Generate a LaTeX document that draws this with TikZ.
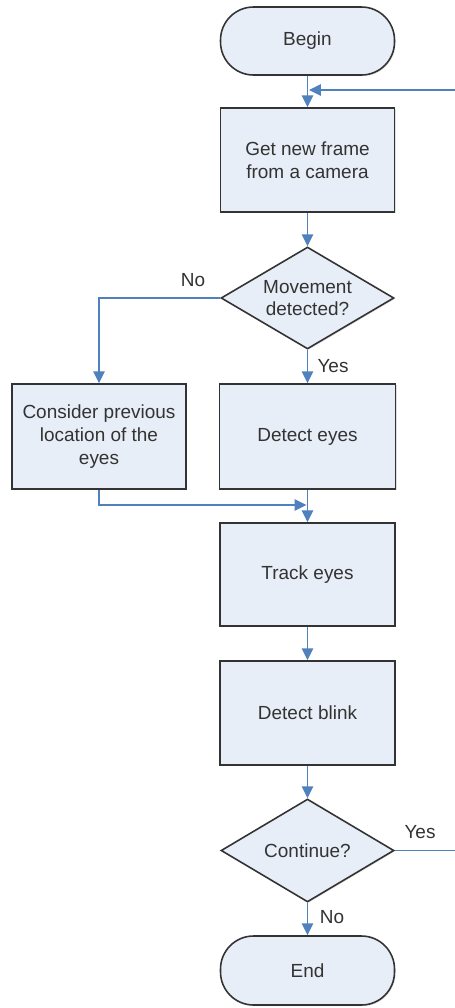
\documentclass[tikz,border=0pt]{standalone}
\usepackage{fontspec}
\setmainfont{Liberation Sans}
\usetikzlibrary{shapes.geometric,arrows.meta,shadows}
\definecolor{boxfill}{HTML}{E8EEF7}
\definecolor{boxline}{HTML}{333333}
\definecolor{connblue}{HTML}{4F81BD}
\definecolor{txtgray}{HTML}{333333}
\tikzset{
  basefont/.style={font=\fontsize{10.8pt}{13pt}\selectfont, text=txtgray},
  stepbox/.style={basefont, draw=boxline, line width=0.9pt, fill=boxfill, rectangle,
    minimum width=3.48cm, minimum height=2.08cm, align=center, inner sep=0pt,
    drop shadow={shadow xshift=0.6pt, shadow yshift=-0.6pt, opacity=0.25}},
  termbox/.style={stepbox, rounded corners=0.66cm, minimum height=1.36cm},
  decbox/.style={basefont, draw=boxline, line width=0.9pt, fill=boxfill, diamond, aspect=1.7,
    minimum width=3.46cm, minimum height=2.04cm, align=center, inner sep=0pt,
    drop shadow={shadow xshift=0.6pt, shadow yshift=-0.6pt, opacity=0.25}},
  conn/.style={draw=connblue, line width=0.85pt, -{Triangle[length=6.8pt, width=6.5pt]}},
  lbl/.style={basefont, inner sep=0pt}
}
\begin{document}
\begin{tikzpicture}[x=0.02cm,y=-0.02cm]
\useasboundingbox[fill=white] (0,0) rectangle (454,1008);
\node[termbox] (begin) at (307.5,41) {Begin};
\node[stepbox] (frame) at (307.5,160) {Get new frame\\from a camera};
\node[decbox] (move) at (307.5,298) {Movement\\detected?};
\node[stepbox, minimum width=3.48cm, minimum height=2.1cm] (cons) at (99,436.5) {Consider previous\\location of the\\eyes};
\node[stepbox, minimum width=3.52cm, minimum height=2.1cm] (deye) at (307.5,436.5) {Detect eyes};
\node[stepbox, minimum width=3.5cm, minimum height=2.06cm] (track) at (307.5,574.5) {Track eyes};
\node[stepbox, minimum width=3.5cm] (blink) at (307.5,713) {Detect blink};
\node[decbox, minimum height=2.06cm] (cont) at (307.5,850.5) {Continue?};
\node[termbox, minimum height=1.38cm] (end) at (307.5,970.5) {End};

\coordinate (loopR) at (470,850.5);
\coordinate (loopin) at (309,90);
\coordinate (merge) at (306.5,505);

\draw[conn] (begin.south) -- (frame.north);
\draw[conn] (cont.east) -- (loopR) |- (loopin);
\draw[conn] (frame.south) -- (move.north);
\draw[conn] (move.west) -| (cons.north);
\draw[conn] (move.south) -- (deye.north);
\draw[conn] (cons.south) |- (merge);
\draw[conn] (deye.south) -- (track.north);
\draw[conn] (track.south) -- (blink.north);
\draw[conn] (blink.south) -- (cont.north);
\draw[conn] (cont.south) -- (end.north);

\node[lbl] (lno1) at (193,280) {No};
\node[lbl] (lyes1) at (333,366) {Yes};
\node[lbl] (lyes2) at (420,832) {Yes};
\node[lbl] (lno2) at (332,917) {No};
\end{tikzpicture}
\end{document}
